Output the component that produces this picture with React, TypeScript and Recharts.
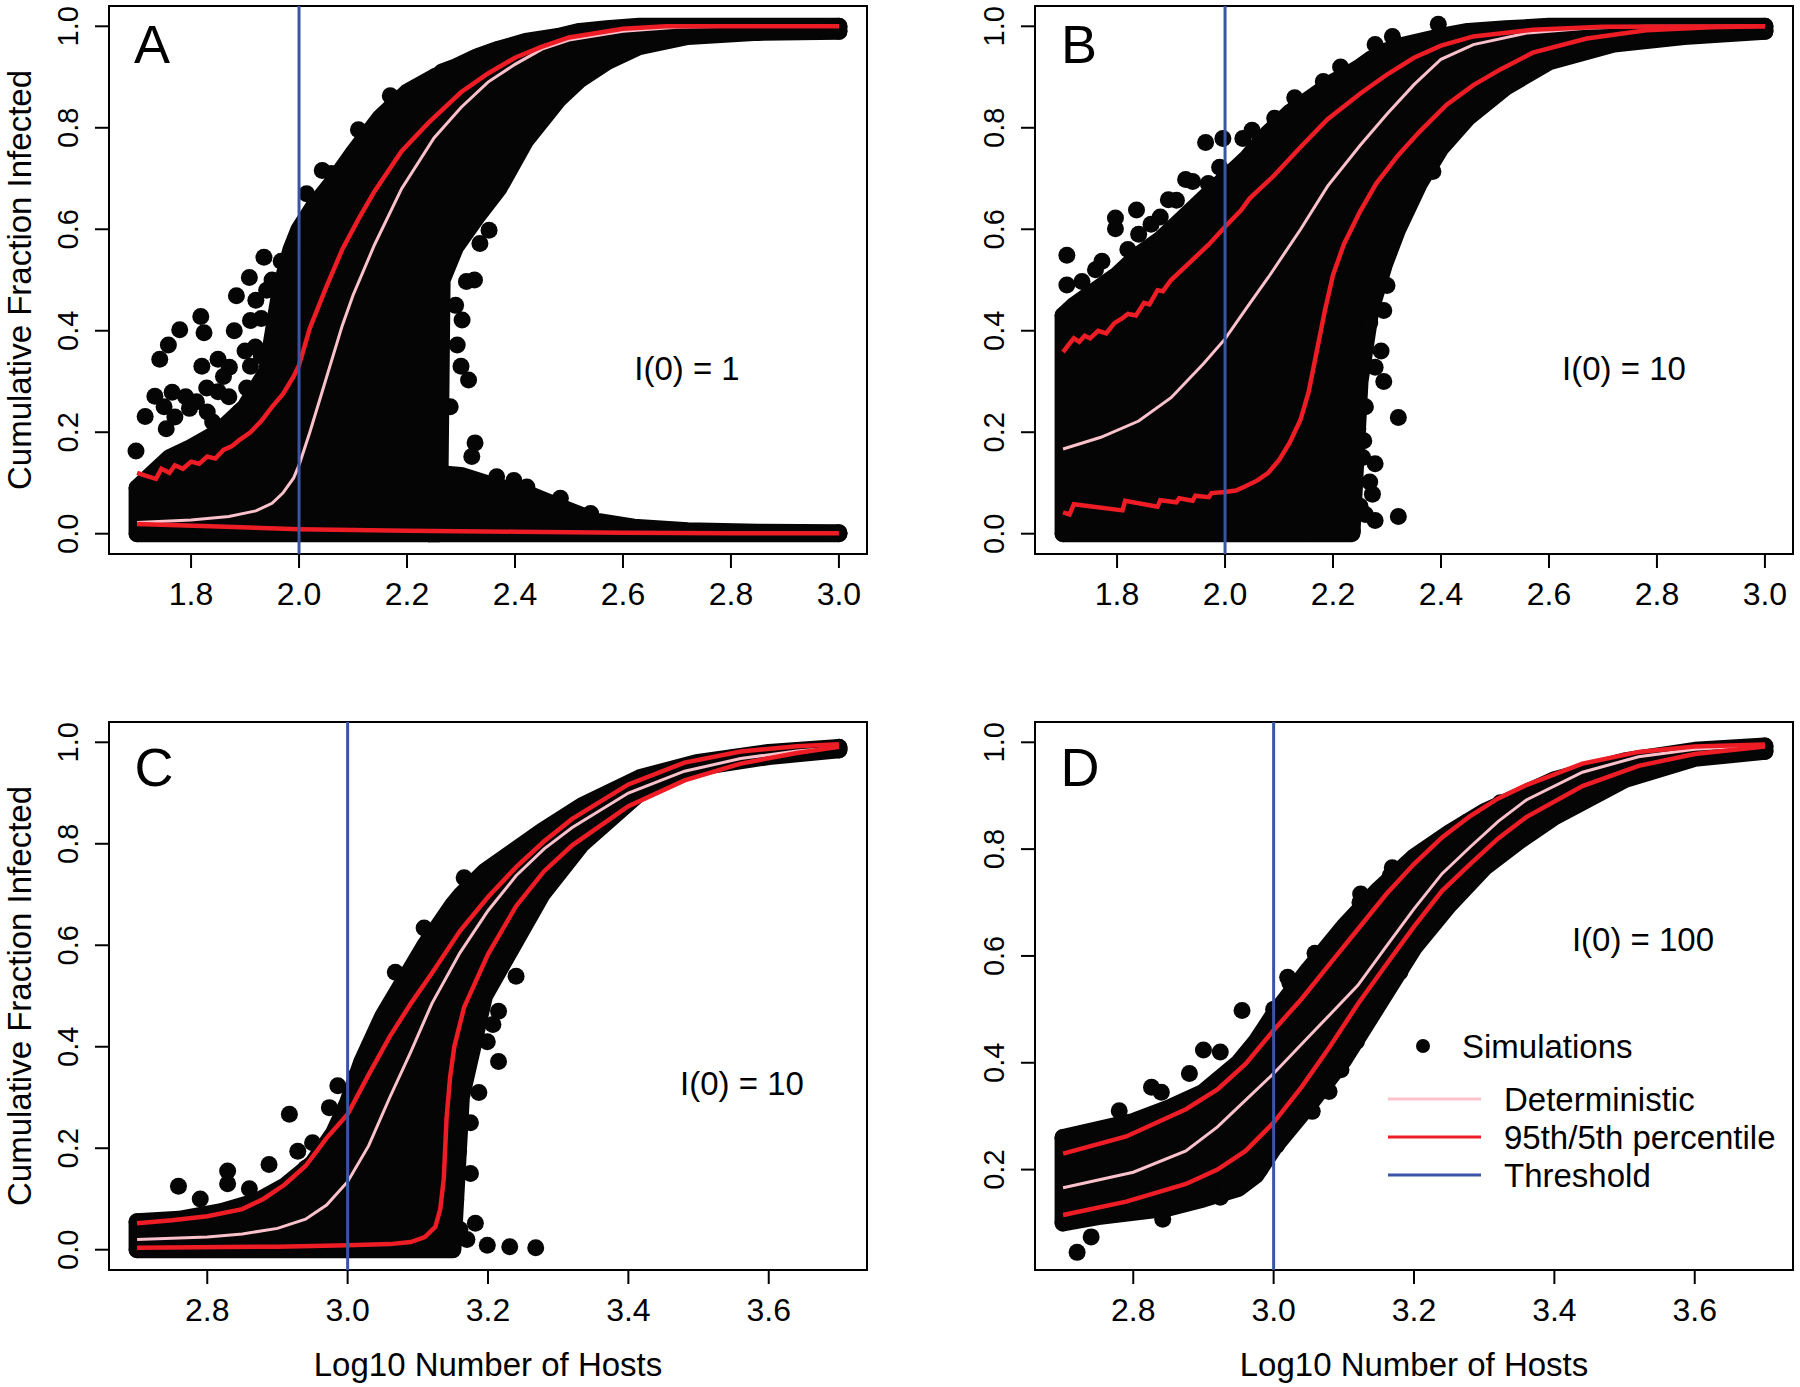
import { Area, ComposedChart, Legend, Line, ReferenceArea, ReferenceLine, Scatter, XAxis, YAxis } from 'recharts';

const FONT = '"Liberation Sans", Arial, Helvetica, sans-serif';
const BLACK = '#050505';
const RED = '#EE1C25';
const PINK = '#FBC2CC';
const BLUE = '#3A55A5';
const DOT_R = 8.5;

type Pt = [number, number];
type Band = [number, number, number];

// axes
const X_TICKS_AB = [1.8, 2.0, 2.2, 2.4, 2.6, 2.8, 3.0];
const X_TICKS_CD = [2.8, 3.0, 3.2, 3.4, 3.6];
const Y_TICKS = [0, 0.2, 0.4, 0.6, 0.8, 1.0];
const Y_TICKS_D = [0.2, 0.4, 0.6, 0.8, 1.0];
const PANEL_LETTERS = ['A', 'B', 'C', 'D'];
const ANNOTATIONS = ['I(0) = 1', 'I(0) = 10', 'I(0) = 10', 'I(0) = 100'];
const LEGEND_ITEMS = ['Simulations', 'Deterministic', '95th/5th percentile', 'Threshold'];

// ---- panel A: I(0)=1, x 1.7..3.0 ----
// simulation cloud envelope [x, low, high]
const A_CLOUD: Band[] = [
  [1.7, 0, 0.09], [1.73, 0, 0.12], [1.76, 0, 0.15], [1.8, 0, 0.17], [1.85, 0, 0.2], [1.9, 0, 0.25], [1.94, 0, 0.32],
  [1.965, 0, 0.48], [1.985, 0, 0.56], [2.0, 0, 0.6], [2.03, 0, 0.65], [2.06, 0, 0.69], [2.1, 0, 0.75], [2.15, 0, 0.82],
  [2.2, 0, 0.87], [2.25, 0, 0.9], [2.26, 0, 0.905], [2.265, 0.5, 0.91], [2.29, 0.565, 0.92], [2.33, 0.625, 0.94],
  [2.37, 0.68, 0.955], [2.42, 0.775, 0.97], [2.48, 0.855, 0.98], [2.52, 0.895, 0.99], [2.57, 0.93, 0.995],
  [2.63, 0.96, 1.0], [2.72, 0.98, 1.0], [2.85, 0.988, 1.0], [3.0, 0.99, 1.0],
];
const A_TAIL: Band[] = [
  [2.24, 0, 0.12], [2.3, 0, 0.115], [2.36, 0, 0.095], [2.43, 0, 0.076], [2.49, 0, 0.05], [2.55, 0, 0.025],
  [2.62, 0, 0.013], [2.72, 0, 0.006], [2.85, 0, 0.003], [3.0, 0, 0.002],
];
const A_DOTS: Pt[] = [
  [1.698, 0.163], [1.715, 0.231], [1.742, 0.344], [1.758, 0.372], [1.779, 0.402], [1.818, 0.428], [1.824, 0.396],
  [1.88, 0.4], [1.884, 0.469], [1.908, 0.505], [1.935, 0.545], [1.967, 0.537], [1.94, 0.48], [1.93, 0.424],
  [1.919, 0.368], [1.85, 0.344], [1.829, 0.287], [1.765, 0.279], [1.797, 0.247], [1.733, 0.271], [1.754, 0.207],
  [1.871, 0.328], [1.946, 0.312], [1.903, 0.287], [1.977, 0.408], [1.75, 0.25], [1.77, 0.23], [1.79, 0.27],
  [1.81, 0.26], [1.83, 0.24], [1.85, 0.28], [1.87, 0.27], [1.89, 0.24], [1.91, 0.33], [1.93, 0.35], [1.9, 0.36],
  [1.86, 0.31], [1.82, 0.33], [1.96, 0.38], [1.92, 0.46], [1.95, 0.5], [1.91, 0.42], [1.84, 0.22],
  [2.014, 0.67], [2.043, 0.716], [2.06, 0.71], [2.11, 0.796], [2.113, 0.75], [2.169, 0.863],
  [2.352, 0.598], [2.335, 0.572], [2.31, 0.497], [2.325, 0.5], [2.302, 0.421], [2.293, 0.372], [2.314, 0.303],
  [2.28, 0.25], [2.29, 0.45], [2.3, 0.33], [2.326, 0.179], [2.32, 0.152], [2.366, 0.112], [2.398, 0.105],
  [2.422, 0.092], [2.484, 0.07], [2.54, 0.04],
];
const A_PINK: Pt[] = [
  [1.7, 0.022], [1.8, 0.027], [1.87, 0.034], [1.92, 0.045], [1.95, 0.06], [1.97, 0.08], [1.99, 0.11], [2.0, 0.135],
  [2.02, 0.2], [2.04, 0.27], [2.06, 0.34], [2.08, 0.41], [2.1, 0.47], [2.14, 0.57], [2.19, 0.68], [2.25, 0.78],
  [2.3, 0.84], [2.35, 0.89], [2.4, 0.925], [2.45, 0.955], [2.5, 0.973], [2.6, 0.99], [2.7, 0.998], [2.8, 1.0], [3.0, 1.0],
];
const A_UPPER: Pt[] = [
  [1.7, 0.12], [1.72, 0.113], [1.735, 0.108], [1.745, 0.128], [1.76, 0.12], [1.77, 0.135], [1.785, 0.128],
  [1.8, 0.142], [1.815, 0.138], [1.83, 0.152], [1.845, 0.148], [1.86, 0.165], [1.875, 0.172], [1.89, 0.185],
  [1.91, 0.2], [1.93, 0.222], [1.95, 0.25], [1.97, 0.275], [1.99, 0.31], [2.0, 0.332], [2.02, 0.405], [2.05, 0.485],
  [2.08, 0.56], [2.11, 0.62], [2.14, 0.675], [2.19, 0.754], [2.24, 0.81], [2.3, 0.87], [2.35, 0.907], [2.4, 0.938],
  [2.45, 0.96], [2.5, 0.978], [2.6, 0.995], [2.68, 1.0], [3.0, 1.0],
];
const A_LOWER: Pt[] = [
  [1.7, 0.019], [1.85, 0.014], [2.0, 0.009], [2.2, 0.006], [2.4, 0.004], [2.6, 0.002], [2.8, 0.001], [3.0, 0.001],
];

// ---- panel B: I(0)=10, x 1.7..3.0 ----
const B_CLOUD: Band[] = [
  [1.7, 0, 0.43], [1.72, 0, 0.45], [1.76, 0, 0.48], [1.8, 0, 0.51], [1.84, 0, 0.55], [1.88, 0, 0.58], [1.92, 0, 0.62],
  [1.96, 0, 0.66], [2.0, 0, 0.7], [2.04, 0, 0.74], [2.08, 0, 0.79], [2.12, 0, 0.83], [2.16, 0, 0.86], [2.2, 0, 0.89],
  [2.235, 0, 0.91], [2.25, 0.3, 0.92], [2.27, 0.44, 0.935], [2.295, 0.53, 0.95], [2.32, 0.6, 0.96], [2.36, 0.69, 0.97],
  [2.4, 0.76, 0.98], [2.45, 0.82, 0.99], [2.52, 0.88, 0.995], [2.6, 0.93, 1.0], [2.72, 0.965, 1.0], [2.85, 0.98, 1.0],
  [3.0, 0.99, 1.0],
];
const B_DOTS: Pt[] = [
  [1.707, 0.549], [1.707, 0.49], [1.735, 0.497], [1.772, 0.537], [1.797, 0.601], [1.797, 0.622], [1.836, 0.638],
  [1.863, 0.61], [1.895, 0.658], [1.927, 0.698], [1.964, 0.771], [1.996, 0.779], [1.99, 0.722], [1.969, 0.69],
  [1.88, 0.624], [1.84, 0.59], [1.76, 0.52], [1.82, 0.56], [1.91, 0.657], [1.94, 0.694],
  [2.033, 0.779], [2.05, 0.795], [2.092, 0.819], [2.129, 0.859], [2.182, 0.891], [2.214, 0.92], [2.278, 0.964],
  [2.31, 0.98], [2.395, 1.004], [2.385, 0.714], [2.31, 0.666], [2.305, 0.617], [2.3, 0.569], [2.278, 0.489],
  [2.3, 0.489], [2.294, 0.44], [2.268, 0.416], [2.289, 0.36], [2.278, 0.328], [2.294, 0.3], [2.236, 0.259],
  [2.246, 0.207], [2.257, 0.183], [2.321, 0.229], [2.278, 0.138], [2.236, 0.118], [2.268, 0.102], [2.273, 0.078],
  [2.214, 0.062], [2.193, 0.054], [2.321, 0.034], [2.278, 0.026], [2.236, 0.006], [2.161, 0.002], [2.25, 0.054],
  [2.26, 0.038], [2.255, 0.15], [2.26, 0.25], [2.262, 0.33],
];
const B_PINK: Pt[] = [
  [1.7, 0.167], [1.77, 0.19], [1.84, 0.222], [1.9, 0.268], [1.96, 0.335], [2.0, 0.384], [2.04, 0.445], [2.08, 0.505],
  [2.14, 0.6], [2.19, 0.685], [2.25, 0.765], [2.3, 0.827], [2.35, 0.885], [2.4, 0.935], [2.46, 0.964], [2.56, 0.987],
  [2.67, 0.996], [2.78, 1.0], [3.0, 1.0],
];
const B_UPPER: Pt[] = [
  [1.7, 0.358], [1.71, 0.372], [1.72, 0.385], [1.73, 0.378], [1.74, 0.39], [1.75, 0.385], [1.765, 0.4], [1.78, 0.395],
  [1.795, 0.415], [1.81, 0.425], [1.82, 0.433], [1.835, 0.43], [1.85, 0.455], [1.86, 0.452], [1.875, 0.48],
  [1.885, 0.478], [1.9, 0.5], [1.93, 0.53], [1.97, 0.57], [2.0, 0.605], [2.03, 0.638], [2.045, 0.66], [2.06, 0.675],
  [2.09, 0.705], [2.14, 0.762], [2.19, 0.817], [2.25, 0.867], [2.3, 0.905], [2.35, 0.938], [2.4, 0.962], [2.46, 0.98],
  [2.57, 0.993], [2.7, 0.999], [3.0, 1.0],
];
const B_LOWER: Pt[] = [
  [1.7, 0.042], [1.712, 0.038], [1.72, 0.058], [1.81, 0.046], [1.815, 0.065], [1.875, 0.053], [1.88, 0.066],
  [1.91, 0.062], [1.915, 0.07], [1.94, 0.065], [1.945, 0.075], [1.97, 0.072], [1.975, 0.08], [2.0, 0.082],
  [2.02, 0.085], [2.035, 0.092], [2.06, 0.105], [2.08, 0.12], [2.1, 0.145], [2.12, 0.18], [2.14, 0.225],
  [2.155, 0.28], [2.17, 0.36], [2.185, 0.44], [2.2, 0.51], [2.22, 0.57], [2.25, 0.635], [2.28, 0.69], [2.32, 0.745],
  [2.36, 0.792], [2.41, 0.845], [2.46, 0.884], [2.51, 0.915], [2.57, 0.948], [2.67, 0.976], [2.78, 0.992],
  [2.9, 0.998], [3.0, 1.0],
];

// ---- panel C: I(0)=10, x 2.7..3.7 ----
const C_CLOUD: Band[] = [
  [2.7, 0, 0.055], [2.76, 0, 0.06], [2.82, 0, 0.075], [2.87, 0, 0.095], [2.91, 0, 0.125], [2.95, 0, 0.17],
  [2.98, 0, 0.23], [3.0, 0, 0.29], [3.02, 0, 0.37], [3.05, 0, 0.46], [3.08, 0, 0.53], [3.11, 0, 0.6], [3.13, 0, 0.64],
  [3.15, 0, 0.68], [3.162, 0.3, 0.7], [3.195, 0.5, 0.745], [3.236, 0.6, 0.785], [3.277, 0.7, 0.825],
  [3.334, 0.8, 0.875], [3.416, 0.9, 0.93], [3.497, 0.95, 0.96], [3.6, 0.972, 0.98], [3.7, 0.985, 0.99],
];
const C_DOTS: Pt[] = [
  [2.759, 0.125], [2.829, 0.155], [2.829, 0.13], [2.888, 0.168], [2.917, 0.267], [2.929, 0.194], [2.95, 0.211],
  [2.974, 0.28], [2.986, 0.323], [3.011, 0.341], [3.039, 0.401], [3.068, 0.547], [3.076, 0.487], [3.109, 0.634],
  [3.137, 0.634], [3.166, 0.733], [3.166, 0.677], [3.187, 0.31], [3.215, 0.371], [3.199, 0.41], [3.207, 0.444],
  [3.215, 0.47], [3.24, 0.539], [3.158, 0.194], [3.158, 0.22], [3.154, 0.099], [3.182, 0.052], [3.199, 0.009],
  [3.231, 0.006], [3.268, 0.004], [3.17, 0.02], [3.16, 0.04], [2.79, 0.1], [2.86, 0.12], [2.9, 0.11], [2.94, 0.16],
  [2.98, 0.2], [3.175, 0.15], [3.175, 0.25],
];
const C_PINK: Pt[] = [
  [2.7, 0.02], [2.8, 0.025], [2.85, 0.031], [2.9, 0.042], [2.94, 0.06], [2.97, 0.088], [3.0, 0.134], [3.03, 0.205],
  [3.06, 0.3], [3.09, 0.39], [3.12, 0.485], [3.16, 0.585], [3.2, 0.668], [3.24, 0.737], [3.28, 0.79], [3.32, 0.832],
  [3.4, 0.9], [3.48, 0.943], [3.56, 0.968], [3.64, 0.983], [3.7, 0.99],
];
const C_UPPER: Pt[] = [
  [2.7, 0.052], [2.75, 0.058], [2.8, 0.066], [2.85, 0.08], [2.88, 0.1], [2.91, 0.128], [2.94, 0.165], [2.97, 0.22],
  [3.0, 0.267], [3.03, 0.345], [3.06, 0.42], [3.09, 0.485], [3.12, 0.545], [3.16, 0.628], [3.2, 0.695], [3.24, 0.754],
  [3.28, 0.805], [3.32, 0.849], [3.4, 0.917], [3.48, 0.96], [3.56, 0.982], [3.64, 0.992], [3.7, 0.996],
];
const C_LOWER: Pt[] = [
  [2.7, 0.004], [2.9, 0.006], [3.0, 0.009], [3.06, 0.011], [3.09, 0.015], [3.11, 0.025], [3.125, 0.045],
  [3.132, 0.08], [3.137, 0.14], [3.141, 0.26], [3.146, 0.34], [3.152, 0.4], [3.166, 0.478], [3.2, 0.582],
  [3.24, 0.677], [3.28, 0.746], [3.32, 0.797], [3.4, 0.874], [3.48, 0.925], [3.56, 0.958], [3.64, 0.979], [3.7, 0.991],
];

// ---- panel D: I(0)=100, x 2.7..3.7 ----
const D_CLOUD: Band[] = [
  [2.7, 0.1, 0.26], [2.75, 0.112, 0.275], [2.8, 0.12, 0.29], [2.85, 0.128, 0.315], [2.9, 0.145, 0.345],
  [2.95, 0.165, 0.4], [2.975, 0.19, 0.44], [3.0, 0.24, 0.49], [3.05, 0.32, 0.575], [3.1, 0.405, 0.655],
  [3.15, 0.51, 0.725], [3.2, 0.615, 0.785], [3.25, 0.695, 0.83], [3.3, 0.765, 0.87], [3.35, 0.815, 0.9],
  [3.4, 0.86, 0.93], [3.5, 0.93, 0.965], [3.6, 0.97, 0.985], [3.7, 0.983, 0.993],
];
const D_DOTS: Pt[] = [
  [2.72, 0.045], [2.74, 0.074], [2.955, 0.498], [2.924, 0.42], [2.9, 0.424], [2.826, 0.354], [2.84, 0.345],
  [3.059, 0.605], [3.124, 0.716], [3.169, 0.765], [3.096, 0.387], [3.079, 0.346], [3.055, 0.309], [3.022, 0.296],
  [2.924, 0.148], [2.957, 0.181], [2.842, 0.107], [2.78, 0.31], [2.88, 0.38], [3.0, 0.5], [3.02, 0.56],
  [3.023, 0.55], [3.061, 0.6], [3.123, 0.7], [3.166, 0.75], [3.227, 0.806], [3.275, 0.85], [3.323, 0.887],
  [3.09, 0.39], [3.118, 0.44], [3.142, 0.5], [3.18, 0.57], [3.204, 0.625], [3.266, 0.72], [3.346, 0.815],
  [3.004, 0.245], [2.98, 0.2], [2.93, 0.16],
];
const D_PINK: Pt[] = [
  [2.7, 0.166], [2.8, 0.195], [2.875, 0.235], [2.92, 0.28], [2.96, 0.33], [3.0, 0.38], [3.04, 0.435], [3.08, 0.49],
  [3.12, 0.545], [3.16, 0.617], [3.2, 0.688], [3.24, 0.754], [3.28, 0.804], [3.32, 0.852], [3.36, 0.892],
  [3.44, 0.944], [3.52, 0.973], [3.6, 0.987], [3.7, 0.995],
];
const D_UPPER: Pt[] = [
  [2.7, 0.23], [2.79, 0.262], [2.875, 0.313], [2.92, 0.35], [2.96, 0.398], [3.0, 0.461], [3.04, 0.52], [3.08, 0.585],
  [3.12, 0.65], [3.16, 0.715], [3.2, 0.772], [3.24, 0.822], [3.28, 0.862], [3.32, 0.895], [3.36, 0.92], [3.44, 0.96],
  [3.52, 0.982], [3.6, 0.992], [3.7, 0.996],
];
const D_LOWER: Pt[] = [
  [2.7, 0.115], [2.79, 0.14], [2.875, 0.173], [2.92, 0.2], [2.96, 0.235], [3.0, 0.288], [3.04, 0.355], [3.08, 0.43],
  [3.12, 0.51], [3.16, 0.583], [3.2, 0.655], [3.24, 0.722], [3.28, 0.772], [3.32, 0.82], [3.36, 0.86], [3.44, 0.918],
  [3.52, 0.956], [3.6, 0.978], [3.7, 0.992],
];

const pts = (p: Pt[]) => p.map(([x, y]) => ({ x, y }));
const band = (b: Band[]) => b.map(([x, lo, hi]) => ({ x, band: [lo, hi] }));

function XTick({ x, y, payload }: any) {
  return (
    <text x={x} y={y + 24} textAnchor="middle" dominantBaseline="central" fontSize={32} fontFamily={FONT} fill="#000">
      {Number(payload.value).toFixed(1)}
    </text>
  );
}

function YTick({ x, y, payload }: any) {
  const cx = x - 25;
  return (
    <text x={cx} y={y} transform={`rotate(-90, ${cx}, ${y})`} textAnchor="middle" dominantBaseline="central" fontSize={29} fontFamily={FONT} fill="#000">
      {Number(payload.value).toFixed(1)}
    </text>
  );
}

function LegendBox() {
  return (
    <svg width={420} height={180} style={{ display: 'block', fontFamily: FONT }}>
      <circle cx={43} cy={26} r={7} fill={BLACK} />
      <text x={82} y={26} fontSize={33} dominantBaseline="central">{LEGEND_ITEMS[0]}</text>
      {[PINK, RED, BLUE].map((c, i) => (
        <g key={i}>
          <line x1={8} x2={101} y1={79 + i * 38} y2={79 + i * 38} stroke={c} strokeWidth={3} />
          <text x={124} y={79 + i * 38} fontSize={33} dominantBaseline="central">{LEGEND_ITEMS[i + 1]}</text>
        </g>
      ))}
    </svg>
  );
}

interface PanelProps {
  left: number;
  top: number;
  height: number;
  marginTop: number;
  marginRight: number;
  yAxisWidth: number;
  xDomain: [number, number];
  yDomain: [number, number];
  xTicks: number[];
  yTicks: number[];
  clouds: Band[][];
  dots: Pt[];
  pink: Pt[];
  upper: Pt[];
  lower: Pt[];
  threshold: number;
  yLabel?: boolean;
  xLabel?: boolean;
  legend?: boolean;
}

function Panel(p: PanelProps) {
  const xAxisHeight = p.height - p.marginTop - 548;
  const margin = { top: p.marginTop, right: p.marginRight, left: 0, bottom: 0 };
  const layer = { position: 'absolute' as const, left: 0, top: 0 };
  return (
    <div style={{ position: 'absolute', left: p.left, top: p.top, width: 900, height: p.height }}>
      {/* bottom layer: the simulation cloud */}
      <div style={layer}>
        <ComposedChart width={900} height={p.height} margin={margin}>
          <XAxis dataKey="x" type="number" domain={p.xDomain} height={xAxisHeight} axisLine={false} tickLine={false} tick={false} />
          <YAxis type="number" domain={p.yDomain} width={p.yAxisWidth} axisLine={false} tickLine={false} tick={false} />
          {p.clouds.map((c, i) => (
            <Area
              key={`cloud${i}`}
              data={band(c)}
              dataKey="band"
              type="linear"
              fill={BLACK}
              fillOpacity={1}
              stroke={BLACK}
              strokeWidth={DOT_R * 2}
              strokeLinejoin="round"
              strokeLinecap="round"
              dot={false}
              activeDot={false}
              isAnimationActive={false}
            />
          ))}
          {p.clouds.flatMap((c, i) =>
            [c[0], c[c.length - 1]].map((r, j) => (
              <Line
                key={`cap${i}-${j}`}
                data={[{ x: r[0], y: r[1] }, { x: r[0], y: r[2] }]}
                dataKey="y"
                stroke={BLACK}
                strokeWidth={DOT_R * 2}
                strokeLinecap="round"
                dot={false}
                activeDot={false}
                isAnimationActive={false}
              />
            ))
          )}
          <Scatter
            data={pts(p.dots)}
            dataKey="y"
            isAnimationActive={false}
            shape={(s: any) => <circle cx={s.cx} cy={s.cy} r={DOT_R} fill={BLACK} />}
          />
        </ComposedChart>
      </div>
      {/* top layer: curves, threshold, axes, frame */}
      <div style={layer}>
        <ComposedChart width={900} height={p.height} margin={margin}>
          <XAxis
            dataKey="x"
            type="number"
            domain={p.xDomain}
            ticks={p.xTicks}
            interval={0}
            height={xAxisHeight}
            axisLine={false}
            tickSize={14}
            tickLine={{ stroke: '#000', strokeWidth: 2 }}
            tick={XTick}
            label={
              p.xLabel
                ? {
                    content: ({ viewBox }: any) => (
                      <text x={viewBox.x + viewBox.width / 2} y={viewBox.y + 94} textAnchor="middle" dominantBaseline="central" fontSize={33} fontFamily={FONT} fill="#000">
                        Log10 Number of Hosts
                      </text>
                    ),
                  }
                : undefined
            }
          />
          <YAxis
            type="number"
            domain={p.yDomain}
            ticks={p.yTicks}
            interval={0}
            width={p.yAxisWidth}
            axisLine={false}
            tickSize={14}
            tickLine={{ stroke: '#000', strokeWidth: 2 }}
            tick={YTick}
            label={
              p.yLabel
                ? {
                    content: ({ viewBox }: any) => {
                      const cx = 19;
                      const cy = viewBox.y + viewBox.height / 2;
                      return (
                        <text x={cx} y={cy} transform={`rotate(-90, ${cx}, ${cy})`} textAnchor="middle" dominantBaseline="central" fontSize={33} fontFamily={FONT} fill="#000">
                          Cumulative Fraction Infected
                        </text>
                      );
                    },
                  }
                : undefined
            }
          />
          <Line data={pts(p.pink)} dataKey="y" type="linear" stroke={PINK} strokeWidth={3} dot={false} activeDot={false} isAnimationActive={false} />
          <Line data={pts(p.upper)} dataKey="y" type="linear" stroke={RED} strokeWidth={4.5} dot={false} activeDot={false} isAnimationActive={false} />
          <Line data={pts(p.lower)} dataKey="y" type="linear" stroke={RED} strokeWidth={4.5} dot={false} activeDot={false} isAnimationActive={false} />
          <ReferenceLine x={p.threshold} stroke={BLUE} strokeWidth={3} />
          <ReferenceArea x1={p.xDomain[0]} x2={p.xDomain[1]} y1={p.yDomain[0]} y2={p.yDomain[1]} fill="none" stroke="#000" strokeWidth={2} />
          {p.legend && (
            <Legend
              layout="horizontal"
              align="center"
              verticalAlign="middle"
              content={() => <LegendBox />}
              wrapperStyle={{ position: 'absolute', left: 480, top: 320, width: 420, height: 180 }}
            />
          )}
        </ComposedChart>
      </div>
    </div>
  );
}

const LETTER_POS: Pt[] = [[152, 44], [1079, 44], [154, 767], [1080, 767]];
const NOTE_POS: Pt[] = [[687, 368], [1624, 368], [742, 1083], [1643, 939]];

export default function App() {
  const domAB: [number, number] = [1.648, 3.052];
  const domCD: [number, number] = [2.66, 3.74];
  return (
    <div style={{ position: 'absolute', left: 0, top: 0, width: 1800, height: 1387, background: '#fff', fontFamily: FONT }}>
      <Panel left={0} top={0} height={640} marginTop={6} marginRight={33} yAxisWidth={109} xDomain={domAB} yDomain={[-0.04, 1.04]}
        xTicks={X_TICKS_AB} yTicks={Y_TICKS} clouds={[A_CLOUD, A_TAIL]} dots={A_DOTS} pink={A_PINK} upper={A_UPPER} lower={A_LOWER}
        threshold={2.0} yLabel />
      <Panel left={900} top={0} height={640} marginTop={6} marginRight={7} yAxisWidth={135} xDomain={domAB} yDomain={[-0.04, 1.04]}
        xTicks={X_TICKS_AB} yTicks={Y_TICKS} clouds={[B_CLOUD]} dots={B_DOTS} pink={B_PINK} upper={B_UPPER} lower={B_LOWER}
        threshold={2.0} />
      <Panel left={0} top={700} height={687} marginTop={22} marginRight={33} yAxisWidth={109} xDomain={domCD} yDomain={[-0.04, 1.04]}
        xTicks={X_TICKS_CD} yTicks={Y_TICKS} clouds={[C_CLOUD]} dots={C_DOTS} pink={C_PINK} upper={C_UPPER} lower={C_LOWER}
        threshold={3.0} yLabel xLabel />
      <Panel left={900} top={700} height={687} marginTop={22} marginRight={7} yAxisWidth={135} xDomain={domCD} yDomain={[0.012, 1.038]}
        xTicks={X_TICKS_CD} yTicks={Y_TICKS_D} clouds={[D_CLOUD]} dots={D_DOTS} pink={D_PINK} upper={D_UPPER} lower={D_LOWER}
        threshold={3.0} xLabel legend />
      <svg width={1800} height={1387} style={{ position: 'absolute', left: 0, top: 0, pointerEvents: 'none' }}>
        {PANEL_LETTERS.map((l, i) => (
          <text key={l} x={LETTER_POS[i][0]} y={LETTER_POS[i][1]} textAnchor="middle" dominantBaseline="central" fontSize={54} fontFamily={FONT} fill="#000">
            {l}
          </text>
        ))}
        {ANNOTATIONS.map((t, i) => (
          <text key={i} x={NOTE_POS[i][0]} y={NOTE_POS[i][1]} textAnchor="middle" dominantBaseline="central" fontSize={33} fontFamily={FONT} fill="#000">
            {t}
          </text>
        ))}
      </svg>
    </div>
  );
}
